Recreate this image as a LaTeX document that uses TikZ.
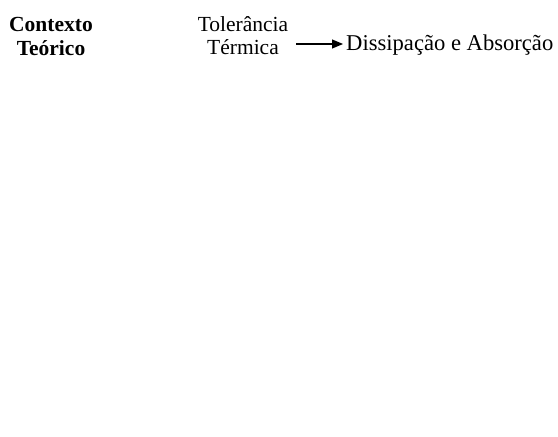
\documentclass[tikz,border=0pt]{standalone}
\usepackage{fontspec}
\setmainfont{Liberation Serif}
\usetikzlibrary{arrows.meta}
\begin{document}
\begin{tikzpicture}[x=1pt,y=1pt,
  lbl/.style={inner sep=0pt, align=center, font=\fontsize{21.5}{23.5}\selectfont},
  conn/.style={line width=1.1pt, -{Triangle[length=11pt,width=9pt]}}]
\useasboundingbox (0,0) rectangle (558,437);
\node[lbl, font=\fontsize{21.5}{23.5}\selectfont\bfseries] (ctx) at (51,400.5) {Contexto\\Teórico};
\node[lbl] (tol) at (243,401.5) {Tolerância\\Térmica};
\node[lbl, anchor=base west, font=\fontsize{22.6}{24}\selectfont] (dis) at (346,386) {Dissipação e Absorção};
\draw[conn] ([yshift=7pt]dis.base west -| tol.east) ++(8,0) -- ([yshift=7pt,xshift=-3pt]dis.base west);
\end{tikzpicture}
\end{document}
